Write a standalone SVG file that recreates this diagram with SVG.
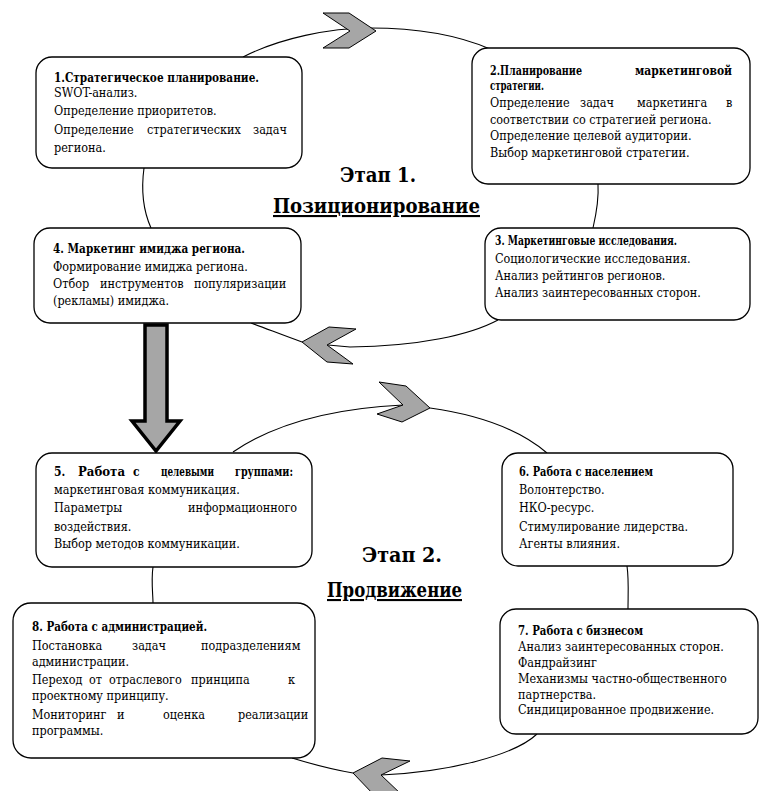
<svg xmlns="http://www.w3.org/2000/svg" width="762" height="791" viewBox="0 0 762 791">
<style>
.box{fill:#fff;stroke:#000;stroke-width:1.3}
.con{fill:none;stroke:#000;stroke-width:1.1}
.chev{fill:#a6a6a6;stroke:#000;stroke-width:1;stroke-linejoin:miter}
.big{fill:#a6a6a6;stroke:#000;stroke-width:3.5;stroke-linejoin:miter}
text{font-family:"DejaVu Serif Condensed","DejaVu Serif","Liberation Serif",serif;font-stretch:condensed;font-size:12.5px;fill:#000}
.b{font-weight:bold;font-size:12px}
.h{font-size:21px;font-weight:bold}
.u{text-decoration:underline}
</style>
<rect width="762" height="791" fill="#fff"/>
<g id="connectors">
  <path class="con" d="M243,57 C280,38 330,28 370,28 C420,28 460,36 490,49"/>
  <path class="con" d="M598,184 C599,200 596,215 593,228"/>
  <path class="con" d="M498,320 C470,335 420,346 350,347 L328,345"/>
  <path class="con" d="M251,323 C270,330 285,336 302,342"/>
  <path class="con" d="M144,168 C141,190 143,210 151,228"/>
  <path class="con" d="M233,452 C280,420 340,408 403,405"/>
  <path class="con" d="M430,408 C480,415 520,430 547,453"/>
  <path class="con" d="M627,566 C629,580 628,595 628,609"/>
  <path class="con" d="M537,734 C515,755 450,772 381,775"/>
  <path class="con" d="M292,758 C315,765 335,770 353,773"/>
  <path class="con" d="M153,567 C151,580 153,595 153,603"/>
  <polygon class="chev" points="323,13 349,13 376,31 349,48 323,48 350,31"/>
  <polygon class="chev" points="302,342 329,327 356,329 327,345 353,364 327,362"/>
  <polygon class="chev" points="379,382 406,386 430,408 402,422 377,414 403,405"/>
  <polygon class="chev" points="353,773 382,758 410,761 381,775 402,795 374,795"/>
  <path class="big" d="M145,325 L167,325 L167,421 L180,421 L156,451 L132,421 L145,421 Z"/>
</g>
<g id="node1">
  <rect class="box" x="36" y="57" width="266" height="111" rx="16"/>
  <text class="b" x="54" y="82" textLength="205" lengthAdjust="spacingAndGlyphs">1.Стратегическое планирование.</text>
  <text x="54" y="97">SWOT-анализ.</text>
  <text x="54" y="115">Определение приоритетов.</text>
  <text y="134"><tspan x="54">Определение</tspan><tspan x="147">стратегических</tspan><tspan x="253">задач</tspan></text>
  <text x="54" y="152">региона.</text>
</g>
<g id="node2">
  <rect class="box" x="472" y="48" width="278" height="136" rx="16"/>
  <text class="b" x="490" y="75" textLength="92" lengthAdjust="spacingAndGlyphs">2.Планирование</text>
  <text class="b" x="635" y="75" textLength="97" lengthAdjust="spacingAndGlyphs">маркетинговой</text>
  <text class="b" x="490" y="90" textLength="54" lengthAdjust="spacingAndGlyphs">стратегии.</text>
  <text y="107"><tspan x="490">Определение</tspan><tspan x="580">задач</tspan><tspan x="637">маркетинга</tspan><tspan x="726">в</tspan></text>
  <text x="490" y="124">соответствии со стратегией региона.</text>
  <text x="490" y="140">Определение целевой аудитории.</text>
  <text x="490" y="157">Выбор маркетинговой стратегии.</text>
</g>
<g id="node3">
  <rect class="box" x="485" y="228" width="265" height="92" rx="16"/>
  <text class="b" x="495" y="245" textLength="182" lengthAdjust="spacingAndGlyphs">3. Маркетинговые исследования.</text>
  <text x="495" y="263">Социологические исследования.</text>
  <text x="495" y="280">Анализ рейтингов регионов.</text>
  <text x="495" y="297">Анализ заинтересованных сторон.</text>
</g>
<g id="node4">
  <rect class="box" x="34" y="228" width="267" height="95" rx="16"/>
  <text class="b" x="53" y="253" textLength="192" lengthAdjust="spacingAndGlyphs">4. Маркетинг имиджа региона.</text>
  <text x="53" y="271">Формирование имиджа региона.</text>
  <text y="288"><tspan x="53">Отбор</tspan><tspan x="100">инструментов</tspan><tspan x="194">популяризации</tspan></text>
  <text x="53" y="305">(рекламы) имиджа.</text>
</g>
<g id="title1">
  <text class="h" x="340" y="182" textLength="76" lengthAdjust="spacingAndGlyphs">Этап 1.</text>
  <text class="h u" x="273" y="213" textLength="207" lengthAdjust="spacingAndGlyphs">Позиционирование</text>
</g>
<g id="node5">
  <rect class="box" x="36" y="453" width="276" height="114" rx="16"/>
  <text class="b" x="54" y="476">5.</text>
  <text class="b" x="78" y="476" textLength="47" lengthAdjust="spacingAndGlyphs">Работа</text>
  <text class="b" x="133" y="476">с</text>
  <text class="b" x="161" y="476" textLength="53" lengthAdjust="spacingAndGlyphs">целевыми</text>
  <text class="b" x="235" y="476" textLength="58" lengthAdjust="spacingAndGlyphs">группами:</text>
  <text x="54" y="494">маркетинговая коммуникация.</text>
  <text y="512"><tspan x="54">Параметры</tspan><tspan x="188">информационного</tspan></text>
  <text x="54" y="531">воздействия.</text>
  <text x="54" y="548">Выбор методов коммуникации.</text>
</g>
<g id="node6">
  <rect class="box" x="502" y="453" width="231" height="113" rx="16"/>
  <text class="b" x="519" y="476" textLength="134" lengthAdjust="spacingAndGlyphs">6. Работа с населением</text>
  <text x="519" y="494">Волонтерство.</text>
  <text x="519" y="512">НКО-ресурс.</text>
  <text x="519" y="531">Стимулирование лидерства.</text>
  <text x="519" y="548">Агенты влияния.</text>
</g>
<g id="title2">
  <text class="h" x="362" y="562" textLength="80" lengthAdjust="spacingAndGlyphs">Этап 2.</text>
  <text class="h u" x="327" y="597" textLength="135" lengthAdjust="spacingAndGlyphs">Продвижение</text>
</g>
<g id="node7">
  <rect class="box" x="500" y="609" width="258" height="125" rx="16"/>
  <text class="b" x="518" y="635" textLength="125" lengthAdjust="spacingAndGlyphs">7. Работа с бизнесом</text>
  <text x="518" y="651">Анализ заинтересованных сторон.</text>
  <text x="518" y="667">Фандрайзинг</text>
  <text x="518" y="683">Механизмы частно-общественного</text>
  <text x="518" y="699">партнерства.</text>
  <text x="518" y="714">Синдицированное продвижение.</text>
</g>
<g id="node8">
  <rect class="box" x="13" y="603" width="302" height="155" rx="18"/>
  <text class="b" x="32" y="631" textLength="175" lengthAdjust="spacingAndGlyphs">8. Работа с администрацией.</text>
  <text y="650"><tspan x="32">Постановка</tspan><tspan x="132">задач</tspan><tspan x="201">подразделениям</tspan></text>
  <text x="32" y="666">администрации.</text>
  <text y="684"><tspan x="32">Переход</tspan><tspan x="89">от</tspan><tspan x="109">отраслевого</tspan><tspan x="191">принципа</tspan><tspan x="288">к</tspan></text>
  <text x="32" y="700">проектному принципу.</text>
  <text y="719"><tspan x="32">Мониторинг</tspan><tspan x="117">и</tspan><tspan x="163">оценка</tspan><tspan x="238">реализации</tspan></text>
  <text x="32" y="735">программы.</text>
</g>
</svg>
